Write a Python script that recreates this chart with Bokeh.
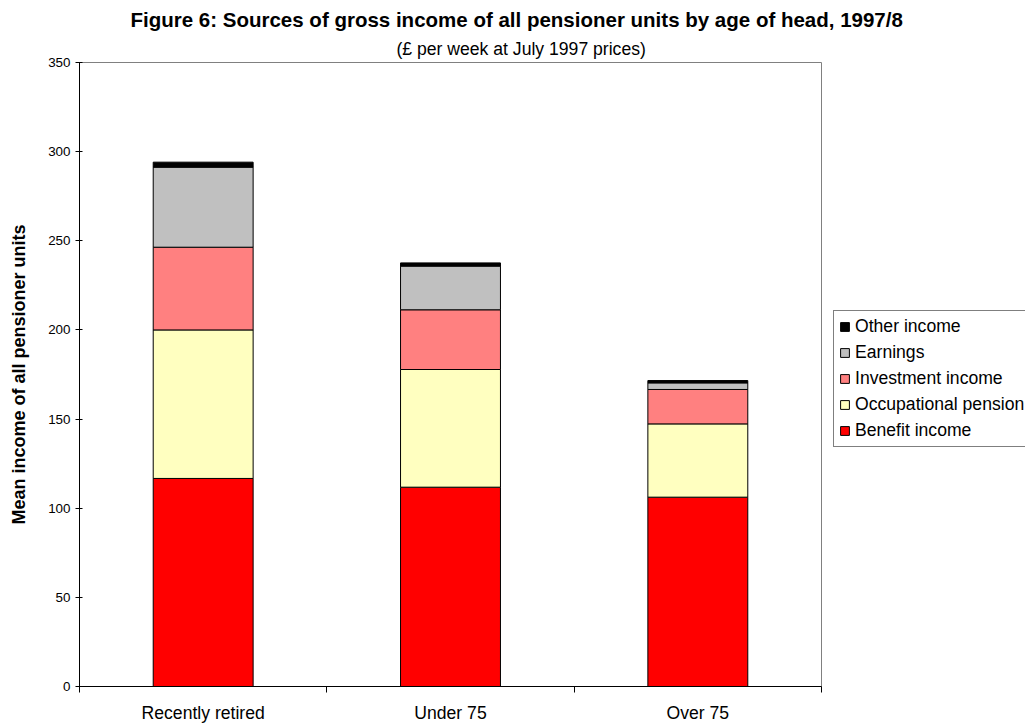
from bokeh.plotting import figure, ColumnDataSource
from bokeh.models import Range1d, FixedTicker, Legend, LegendItem, Title
from bokeh.embed import file_html
from bokeh.resources import INLINE

# Mean weekly income (£, July 1997 prices) by source and age group
groups = ["Recently retired", "Under 75", "Over 75"]
benefit_income = [116.7, 111.8, 106.2]
occupational_pension = [83.3, 66.0, 41.1]
investment_income = [46.4, 33.5, 19.3]
earnings = [44.9, 24.5, 3.7]
other_income = [2.8, 1.8, 1.3]

series_names = ["Benefit income", "Occupational pension", "Investment income",
                "Earnings", "Other income"]
series_values = [benefit_income, occupational_pension, investment_income,
                 earnings, other_income]
series_colors = ["#FF0000", "#FFFFC0", "#FF8080", "#C0C0C0", "#000000"]

y_ticks = [0, 50, 100, 150, 200, 250, 300, 350]

FONT = "Liberation Sans"

x_pos = [i + 0.5 for i in range(len(groups))]
data = {"x": x_pos}
for name, vals in zip(series_names, series_values):
    data[name] = vals
source = ColumnDataSource(data)

p = figure(width=1025, height=724, frame_width=742, frame_height=624,
           output_backend="svg", toolbar_location=None, title=None,
           x_range=Range1d(0, len(groups)), y_range=Range1d(y_ticks[0], y_ticks[-1]),
           min_border_left=79, min_border_right=0, min_border_top=62,
           min_border_bottom=38)
p.background_fill_color = "white"
p.border_fill_color = "white"
p.outline_line_color = "#808080"
p.outline_line_width = 1
p.xgrid.visible = False
p.ygrid.visible = False

renderers = p.vbar_stack(series_names, x="x", width=0.404, source=source,
                         fill_color=series_colors, line_color="black",
                         line_width=1)

# x axis: group names at bar centres, short ticks at group boundaries
xa = p.xaxis[0]
xa.ticker = FixedTicker(ticks=x_pos, minor_ticks=list(range(len(groups) + 1)))
xa.major_label_overrides = {x: g for x, g in zip(x_pos, groups)}
xa.major_tick_in = 0
xa.major_tick_out = 0
xa.minor_tick_in = 0
xa.minor_tick_out = 6
xa.minor_tick_line_color = "black"
xa.axis_line_color = "black"
xa.major_label_standoff = 10
xa.major_label_text_font = FONT
xa.major_label_text_font_size = "17.6px"
xa.major_label_text_color = "black"

ya = p.yaxis[0]
ya.ticker = FixedTicker(ticks=y_ticks, minor_ticks=[])
ya.major_tick_in = 3
ya.major_tick_out = 4
ya.major_tick_line_color = "black"
ya.axis_line_color = "black"
ya.major_label_standoff = 5
ya.major_label_text_font = FONT
ya.major_label_text_font_size = "13.4px"
ya.major_label_text_color = "black"
ya.axis_label = "Mean income of all pensioner units"
ya.axis_label_text_font = FONT
ya.axis_label_text_font_size = "18px"
ya.axis_label_text_font_style = "bold"
ya.axis_label_text_color = "black"
ya.axis_label_standoff = 16

# Legend beside the plot, top entry is the top of the stack
items = [LegendItem(label=n, renderers=[r])
         for n, r in zip(series_names[::-1], renderers[::-1])]
legend = Legend(items=items, location=(12, 239), orientation="vertical",
                glyph_width=11, glyph_height=11, label_standoff=5,
                label_text_font=FONT, label_text_font_size="17.6px",
                label_text_color="black", label_height=20, spacing=5,
                padding=5, margin=0, border_line_color="black",
                border_line_width=1, background_fill_color="white",
                background_fill_alpha=1)
p.add_layout(legend, "right")

# Headings: the panel nearest the plot is added first
subtitle = Title(text="(£ per week at July 1997 prices)", align="left",
                 offset=317, standoff=8, text_font=FONT,
                 text_font_size="17.6px", text_font_style="normal",
                 text_color="black")
title = Title(text="Figure 6: Sources of gross income of all pensioner units by age of head, 1997/8",
              align="left", offset=51, standoff=3, text_font=FONT,
              text_font_size="20.5px", text_font_style="bold",
              text_color="black")
p.add_layout(subtitle, "above")
p.add_layout(title, "above")

with open("out.html", "w") as f:
    f.write(file_html(p, INLINE))
